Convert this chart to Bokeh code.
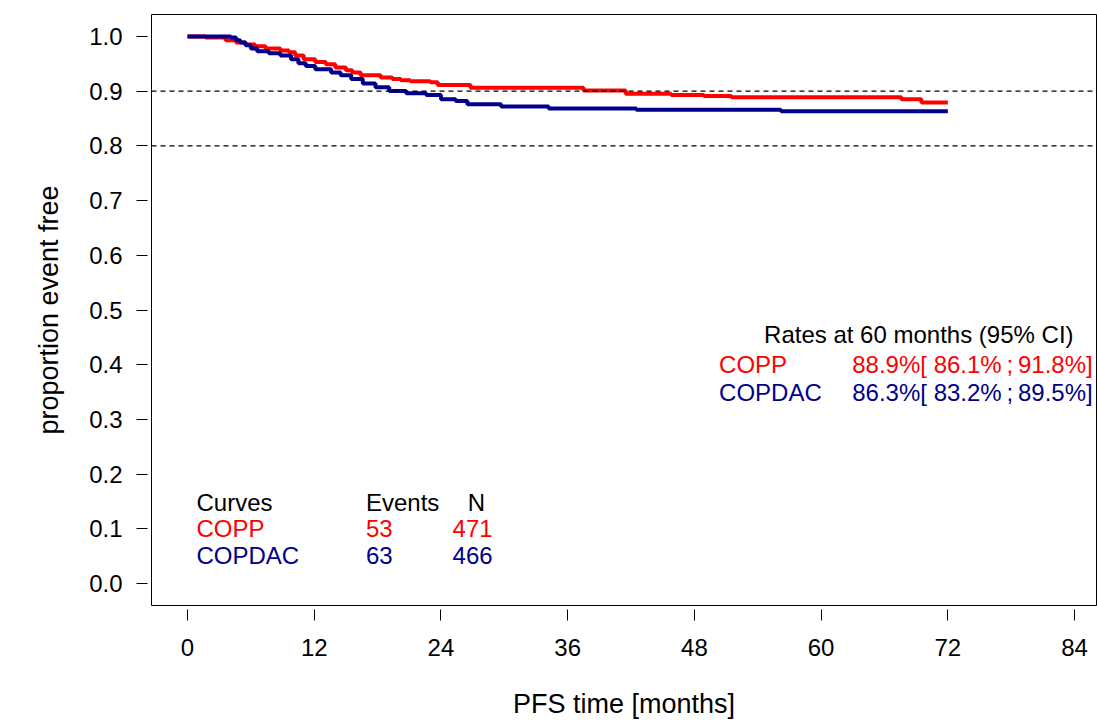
from bokeh.plotting import figure
from bokeh.models import FixedTicker, PrintfTickFormatter, Span, Label
from bokeh.embed import file_html
from bokeh.resources import INLINE

# Kaplan-Meier step points (months, proportion event free)
copp_time = [0, 1.7, 3.6, 4.6, 5.5, 6.4, 7.4, 8.8, 9.6, 10.2, 11.0, 12.1, 13.1, 14.0,
             15.0, 15.6, 16.4, 18.3, 19.4, 20.2, 21.1, 23.0, 23.7, 26.8, 37.5, 41.5,
             45.8, 48.9, 51.5, 67.6, 69.5, 72.0]
copp_surv = [1.0, 0.998, 0.993, 0.989, 0.985, 0.982, 0.978, 0.974, 0.971, 0.965, 0.958,
             0.953, 0.949, 0.943, 0.938, 0.934, 0.929, 0.925, 0.922, 0.920, 0.918, 0.916,
             0.911, 0.906, 0.901, 0.895, 0.893, 0.891, 0.889, 0.885, 0.879, 0.879]

copdac_time = [0, 4.1, 4.6, 5.0, 5.5, 6.0, 6.6, 7.7, 8.8, 9.8, 10.5, 11.2, 12.1, 13.6,
               14.5, 15.5, 16.6, 17.8, 19.1, 20.7, 22.6, 24.0, 25.4, 26.5, 29.7, 34.2,
               42.5, 56.2, 72.0]
copdac_surv = [1.0, 0.998, 0.993, 0.989, 0.984, 0.978, 0.973, 0.969, 0.965, 0.958, 0.951,
               0.946, 0.940, 0.934, 0.929, 0.922, 0.914, 0.907, 0.900, 0.896, 0.893, 0.885,
               0.882, 0.876, 0.872, 0.868, 0.866, 0.863, 0.863]

curve_names = ["COPP", "COPDAC"]
curve_colors = ["#FF0000", "#00008B"]
events = [53, 63]
n_patients = [471, 466]
rate_60 = [88.9, 86.3]
ci_low = [86.1, 83.2]
ci_high = [91.8, 89.5]

x_ticks = [0, 12, 24, 36, 48, 60, 72, 84]
y_ticks = [0.0, 0.1, 0.2, 0.3, 0.4, 0.5, 0.6, 0.7, 0.8, 0.9, 1.0]
ref_lines = [0.9, 0.8]

FONT = "Liberation Sans"

p = figure(width=1097, height=724, output_backend="svg", toolbar_location=None,
           x_range=(-3.41, 86.08), y_range=(-0.04, 1.04),
           min_border_left=151, min_border_right=1, min_border_top=14,
           min_border_bottom=119)
p.xgrid.visible = False
p.ygrid.visible = False
p.outline_line_color = "black"
p.outline_line_width = 1
p.background_fill_color = "white"
p.border_fill_color = "white"

for ax in (p.xaxis[0], p.yaxis[0]):
    ax.axis_line_color = None
    ax.major_tick_in = -4
    ax.major_tick_out = 15
    ax.major_tick_line_color = "black"
    ax.minor_tick_line_color = None
    ax.major_label_text_font = FONT
    ax.major_label_text_font_size = "24px"
    ax.major_label_text_color = "black"
    ax.axis_label_text_font = FONT
    ax.axis_label_text_font_size = "27px"
    ax.axis_label_text_font_style = "normal"
    ax.axis_label_text_color = "black"

p.xaxis.ticker = FixedTicker(ticks=x_ticks)
p.yaxis.ticker = FixedTicker(ticks=y_ticks)
p.yaxis.formatter = PrintfTickFormatter(format="%.1f")
p.xaxis.major_label_standoff = 18
p.yaxis.major_label_standoff = 14
p.xaxis.axis_label = "PFS time [months]"
p.yaxis.axis_label = "proportion event free"
p.xaxis.axis_label_standoff = 30
p.yaxis.axis_label_standoff = 22

for level in ref_lines:
    p.add_layout(Span(location=level, dimension="width", line_color="black",
                      line_width=1.4, line_dash="5 4"))

p.step(copp_time, copp_surv, mode="after", line_color=curve_colors[0], line_width=4)
p.step(copdac_time, copdac_surv, mode="after", line_color=curve_colors[1], line_width=4)


def add_text(x, y, text, color="black"):
    p.add_layout(Label(x=x, y=y, text=text, text_color=color, text_font=FONT,
                       text_font_size="24px", text_baseline="middle",
                       text_align="left"))


# Rates at 60 months with confidence intervals
add_text(54.6, 0.456, "Rates at 60 months (95% CI)")
for i, yy in enumerate([0.401, 0.349]):
    add_text(50.34, yy, curve_names[i], curve_colors[i])
    add_text(62.95, yy,
             f"{rate_60[i]:.1f}%[ {ci_low[i]:.1f}%\u2009;\u2009{ci_high[i]:.1f}%]",
             curve_colors[i])

# Events / N table
add_text(0.85, 0.148, "Curves")
add_text(16.9, 0.148, "Events")
add_text(26.55, 0.148, "N")
for i, yy in enumerate([0.100, 0.051]):
    add_text(0.85, yy, curve_names[i], curve_colors[i])
    add_text(16.9, yy, str(events[i]), curve_colors[i])
    add_text(25.1, yy, str(n_patients[i]), curve_colors[i])

open("out.html", "w").write(file_html(p, INLINE))
